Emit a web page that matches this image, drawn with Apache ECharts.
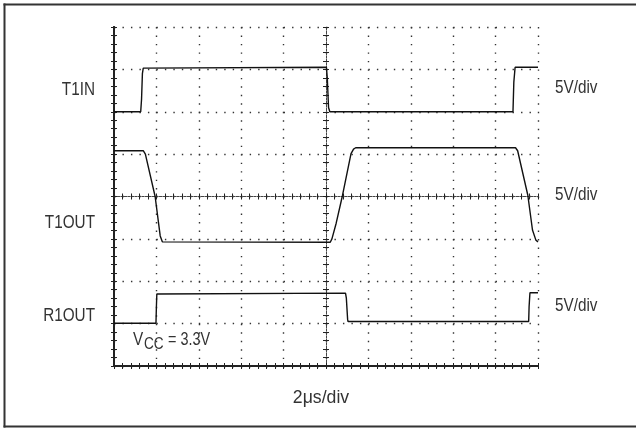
<!DOCTYPE html>
<html>
<head>
<meta charset="utf-8">
<script src="https://cdn.jsdelivr.net/npm/echarts@6/dist/echarts.min.js"></script>
<style>
  html, body { margin: 0; padding: 0; background: #fff; overflow: hidden; }
  #chart { width: 636px; height: 428px; }
</style>
</head>
<body>
<div id="chart"></div>
<script>
  // values in scope divisions: x 0..10, y 0..8 (bottom = 0)
  var t1in = [[0, 6.0], [0.63, 6.0], [0.65, 6.3], [0.67, 6.9], [0.69, 7.03], [5.01, 7.05], [5.03, 6.8],
    [5.06, 6.1], [5.09, 6.0], [9.41, 6.0], [9.43, 6.7], [9.46, 7.05], [10, 7.05]]
  var t1out = [[0, 5.08], [0.69, 5.08], [0.74, 5.0], [0.97, 4.0], [1.09, 3.07], [1.14, 2.93], [1.18, 2.9],
    [5.1, 2.92], [5.14, 3.0], [5.24, 3.37], [5.39, 4.03], [5.59, 5.01], [5.65, 5.12], [5.7, 5.15],
    [9.47, 5.15], [9.52, 5.08], [9.76, 4.03], [9.87, 3.21], [9.95, 2.97], [10, 2.93]]
  var r1out = [[0, 1.01], [0.99, 1.01], [1.0, 1.4], [1.01, 1.7], [5.46, 1.72], [5.48, 1.6], [5.51, 1.1],
    [5.52, 1.05], [9.78, 1.05], [9.79, 1.4], [9.81, 1.73], [10, 1.73]]

  var traceNames = ['T1IN', 'T1OUT', 'R1OUT']
  var scaleLabels = ['5V/div', '5V/div', '5V/div']
  var timeLabel = '2μs/div'

  var FONT = '"Liberation Sans", Arimo, Arial, sans-serif'
  var INK = '#222'
  var TXT = '#333'

  // one scope axis; center = crosshair axis through the middle
  function scopeAxis(max, position, offset, inside, grid, center) {
    return {
      type: 'value', min: 0, max: max, interval: 1,
      position: position, offset: offset,
      axisLine: { show: true, lineStyle: center ? { color: '#444', width: 1, type: [2, 1.5] } : { color: INK, width: 2 } },
      axisTick: { show: true, inside: inside, length: 3, lineStyle: { color: INK, width: 1 } },
      minorTick: { show: true, splitNumber: 5, length: 3, lineStyle: { color: INK, width: 1 } },
      axisLabel: { show: false },
      splitLine: { show: grid, lineStyle: { color: '#333', width: 1.4, type: [1.4, 7.08] } },
      minorSplitLine: { show: false }
    }
  }

  // condensed text: Liberation Sans squeezed horizontally
  function label(txt, x, y, size, align, sx) {
    return {
      type: 'text', x: x, y: y, scaleX: sx || 0.85, silent: true,
      style: { text: txt, font: size + 'px ' + FONT, fill: TXT, textAlign: align, textVerticalAlign: 'middle' }
    }
  }
  function edge(x1, y1, x2, y2) {
    return { type: 'line', silent: true, shape: { x1: x1, y1: y1, x2: x2, y2: y2 }, style: { stroke: '#333', lineWidth: 2 } }
  }

  var chart = echarts.init(document.getElementById('chart'), null, { renderer: 'canvas' })

  var lineStyle = { color: '#111', width: 1.4 }
  function trace(d) {
    return { type: 'line', data: d, showSymbol: false, symbol: 'none', lineStyle: lineStyle, animation: false, xAxisIndex: 0, yAxisIndex: 0 }
  }

  var leftY = [90, 223.5, 316]
  var rightY = [88.5, 195, 306.5]
  // outer frame: top, left, bottom only
  var graphics = [edge(3.5, 4.5, 800, 4.5), edge(4.5, 3.5, 4.5, 427.5), edge(3.5, 426.5, 800, 426.5)]
  traceNames.forEach(function (n, i) {
    graphics.push(label(n, 95, leftY[i], 18, 'right'))
  })
  scaleLabels.forEach(function (n, i) {
    graphics.push(label(n, 555, rightY[i], 18, 'left'))
  })
  graphics.push(label(timeLabel, 321, 398, 19, 'center', 0.93))
  // V with subscript CC
  graphics.push(label('V', 133, 340.5, 18, 'left'))
  graphics.push(label('CC', 144, 345, 16, 'left'))
  graphics.push(label('= 3.3V', 168, 340.5, 18, 'left', 0.8))

  var option = {
    animation: false,
    backgroundColor: '#fff',
    grid: { left: 114, top: 27, width: 424, height: 339 },
    xAxis: [
      scopeAxis(10, 'bottom', 0, true, true, false),
      scopeAxis(10, 'top', 0, true, false, false),
      scopeAxis(10, 'bottom', -169.5, true, false, true),
      scopeAxis(10, 'bottom', -169.5, false, false, true)
    ],
    yAxis: [
      scopeAxis(8, 'left', 0, true, true, false),
      scopeAxis(8, 'right', 0, true, false, false),
      scopeAxis(8, 'left', -212, true, false, true),
      scopeAxis(8, 'left', -212, false, false, true)
    ],
    series: [trace(t1in), trace(t1out), trace(r1out)],
    graphic: graphics
  }
  chart.setOption(option)
</script>
</body>
</html>
